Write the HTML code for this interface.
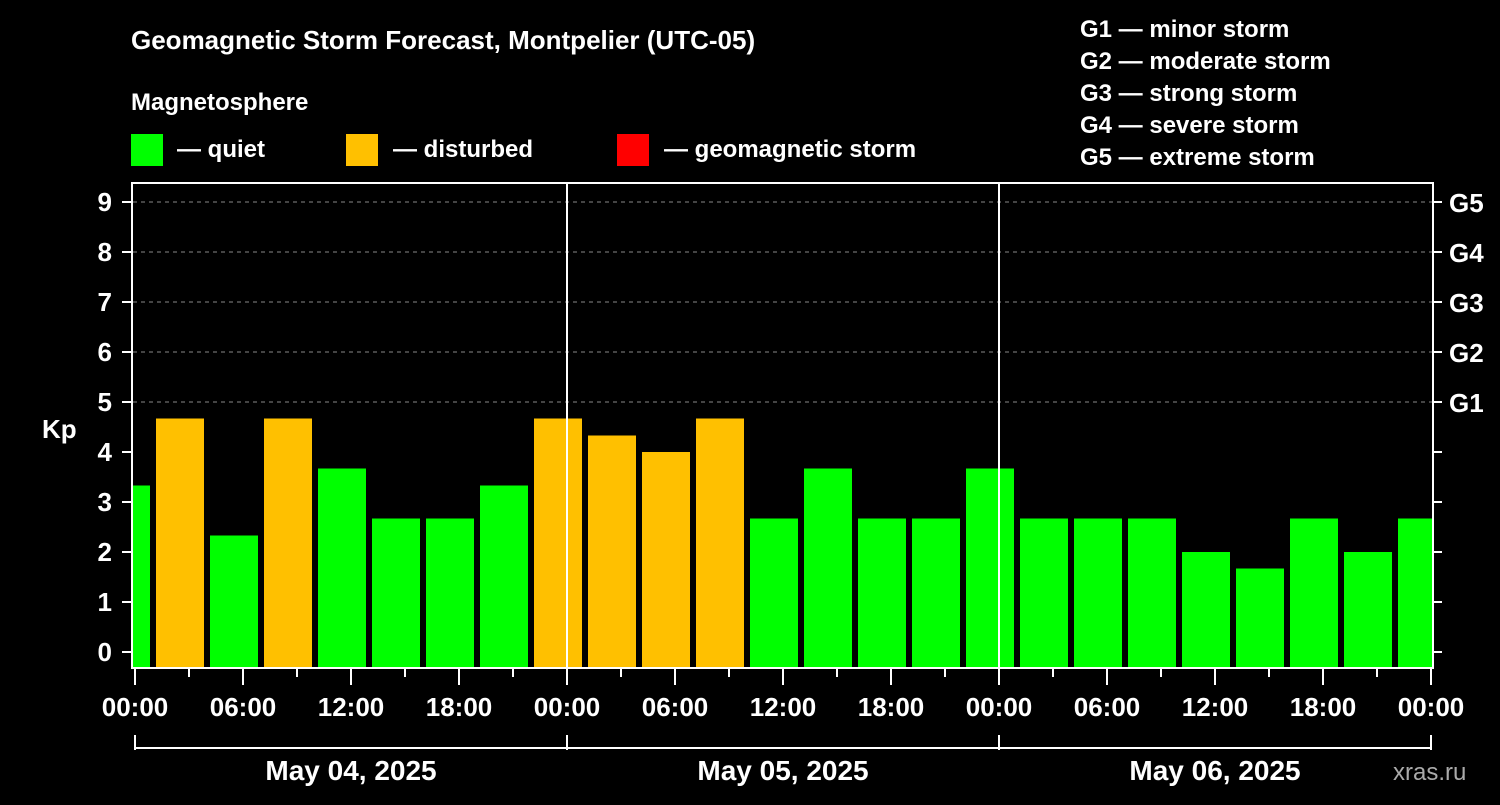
<!DOCTYPE html>
<html><head><meta charset="utf-8"><style>
body{margin:0;background:#000;}
svg text{font-family:"Liberation Sans",Arial,sans-serif;font-weight:bold;fill:#fff;}
</style></head><body>
<svg id="chart" width="1500" height="800" xmlns="http://www.w3.org/2000/svg">
<rect width="1500" height="800" fill="#000"/>
<text x="131" y="49" font-size="26">Geomagnetic Storm Forecast, Montpelier (UTC-05)</text>
<text x="131" y="110" font-size="24">Magnetosphere</text>
<g><rect x="131" y="134" width="32" height="32" fill="#00ff00"/><text x="177" y="157" font-size="24">— quiet</text></g>
<g><rect x="346" y="134" width="32" height="32" fill="#ffc000"/><text x="393" y="157" font-size="24">— disturbed</text></g>
<g><rect x="617" y="134" width="32" height="32" fill="#ff0000"/><text x="664" y="157" font-size="24">— geomagnetic storm</text></g>
<g font-size="24">
<text x="1080" y="37">G1 — minor storm</text>
<text x="1080" y="69">G2 — moderate storm</text>
<text x="1080" y="101">G3 — strong storm</text>
<text x="1080" y="133">G4 — severe storm</text>
<text x="1080" y="165">G5 — extreme storm</text>
</g>
<defs><clipPath id="plotclip"><rect x="133" y="183" width="1299" height="485"/></clipPath></defs>
<g id="grid"></g>
<g id="bars" clip-path="url(#plotclip)"></g>
<g id="axes"></g>
<text x="42" y="438" font-size="26">Kp</text>
<text x="1393" y="780" font-size="24" fill="#aaa" style="fill:#aaaaaa;font-weight:normal">xras.ru</text>
</svg>
<script>
const kpValues=[3.33,4.67,2.33,4.67,3.67,2.67,2.67,3.33,4.67,4.33,4.0,4.67,2.67,3.67,2.67,2.67,3.67,2.67,2.67,2.67,2.0,1.67,2.67,2.0,2.67];
const barStartHours=[-2,1,4,7,10,13,16,19,22,25,28,31,34,37,40,43,46,49,52,55,58,61,64,67,70];
const dayLabels=["May 04, 2025","May 05, 2025","May 06, 2025"];
const timeTickLabels=["00:00","06:00","12:00","18:00"];
const kpTicks=[0,1,2,3,4,5,6,7,8,9];
const gLabels=["G1","G2","G3","G4","G5"];
const NS="http://www.w3.org/2000/svg";
const X=h=>135+h*18;
const Y=k=>652-k*50;
function mk(tag,attrs,parent){const e=document.createElementNS(NS,tag);for(const k in attrs)e.setAttribute(k,attrs[k]);parent.appendChild(e);return e;}
const grid=document.getElementById('grid'),bars=document.getElementById('bars'),axes=document.getElementById('axes');
for(let k=5;k<=9;k++){const l=mk('line',{x1:133,x2:1432,y1:Y(k),y2:Y(k),stroke:'#888','stroke-dasharray':'4,4','stroke-width':1},grid);

}
kpValues.forEach((v,i)=>{const r=mk('rect',{x:X(barStartHours[i])+3,y:Y(v),width:48,height:668-Y(v),fill:v>=5?'#ff0000':(v>=4?'#ffc000':'#00ff00')},bars);

});
[24,48].forEach(h=>{const l=mk('line',{x1:X(h),x2:X(h),y1:183,y2:668,stroke:'#fff','stroke-width':2},grid.parentNode);

});
const fr=mk('rect',{x:132,y:183,width:1301,height:485,fill:'none',stroke:'#fff','stroke-width':2},axes);


kpTicks.forEach(k=>{mk('line',{x1:122,x2:131,y1:Y(k),y2:Y(k),stroke:'#fff','stroke-width':2},axes);
const t=mk('text',{x:112,y:Y(k)+9,'font-size':26,'text-anchor':'end'},axes);t.textContent=k;


mk('line',{x1:1433,x2:1442,y1:Y(k),y2:Y(k),stroke:'#fff','stroke-width':2},axes);});
gLabels.forEach((g,i)=>{const t=mk('text',{x:1449,y:Y(5+i)+10,'font-size':26},axes);t.textContent=g;

});
for(let h=0;h<=72;h+=3){const major=h%6===0;mk('line',{x1:X(h),x2:X(h),y1:669,y2:major?685:677,stroke:'#fff','stroke-width':2},axes);
if(major){const t=mk('text',{x:X(h),y:716,'font-size':26,'text-anchor':'middle'},axes);t.textContent=timeTickLabels[(h/6)%4];

}}
mk('line',{x1:X(0),x2:X(72),y1:748,y2:748,stroke:'#fff','stroke-width':2},axes);
for(let d=0;d<=3;d++)mk('line',{x1:X(d*24),x2:X(d*24),y1:735,y2:750,stroke:'#fff','stroke-width':2},axes);
dayLabels.forEach((s,d)=>{const t=mk('text',{x:X(d*24+12),y:780,'font-size':28,'text-anchor':'middle'},axes);t.textContent=s;

});
</script>
</body></html>
